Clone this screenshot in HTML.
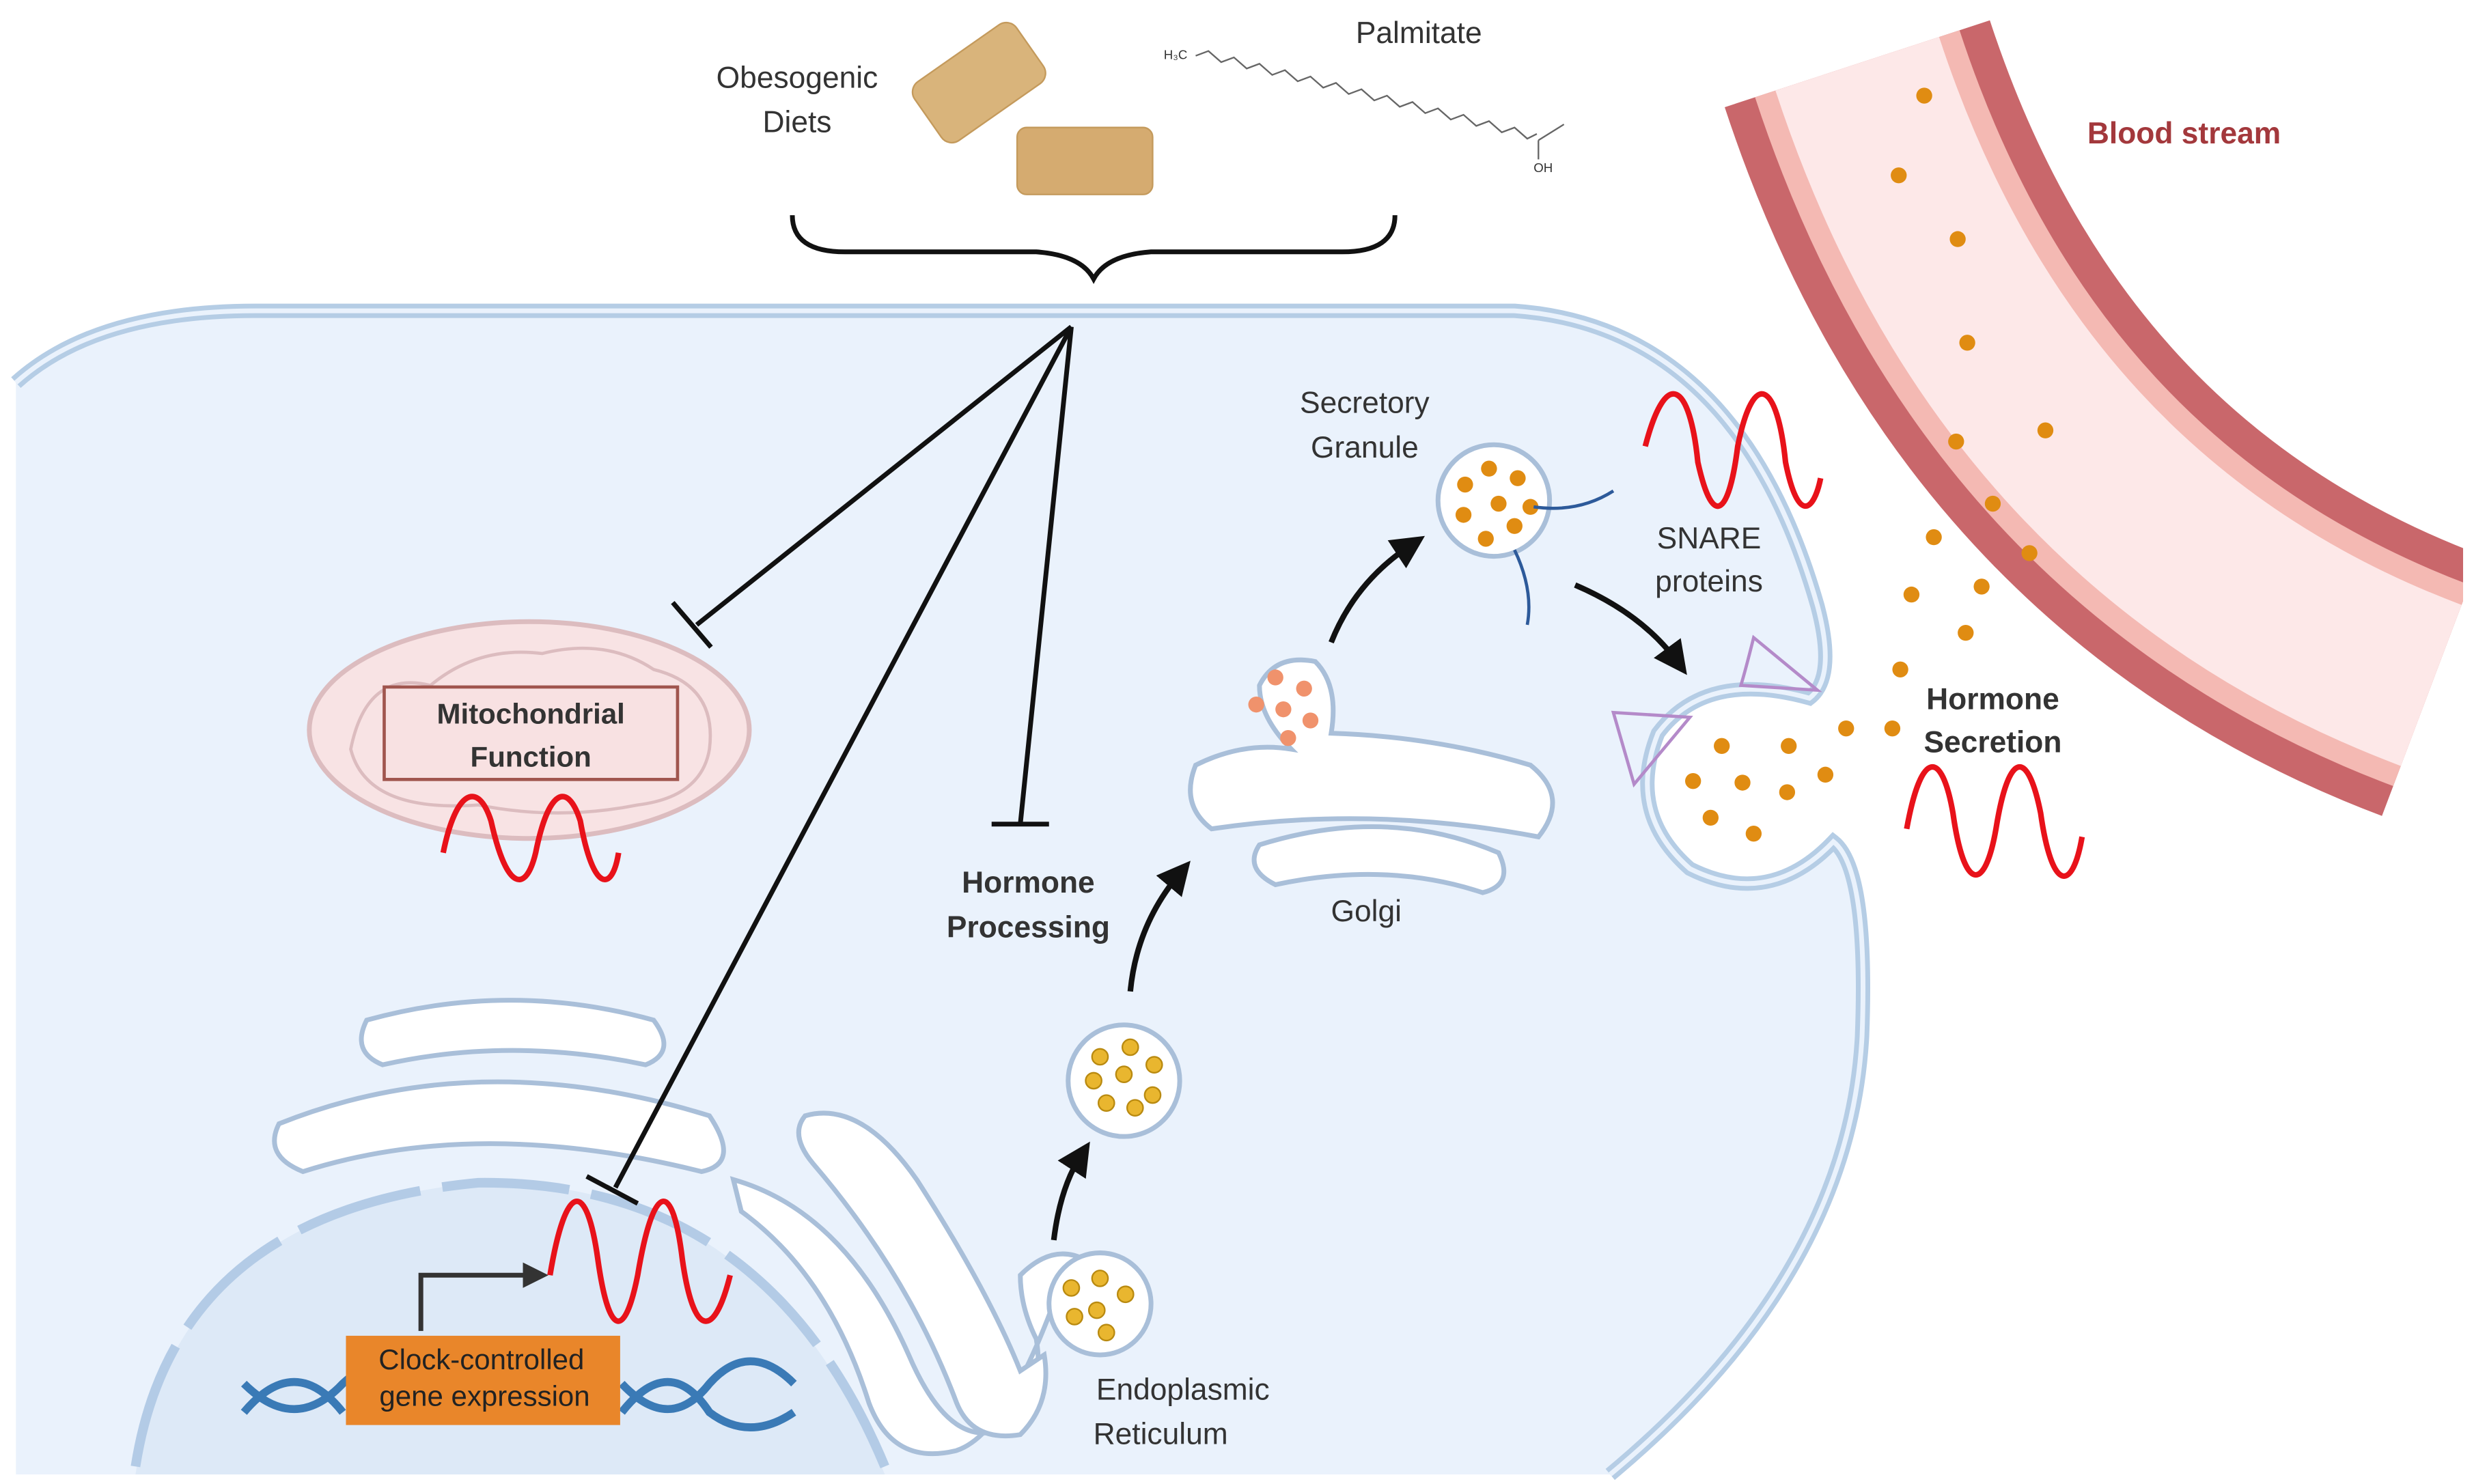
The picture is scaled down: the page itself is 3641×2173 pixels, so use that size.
<!DOCTYPE html>
<html><head><meta charset="utf-8"><style>html,body{margin:0;padding:0;background:#fff}svg{display:block}text{font-family:"Liberation Sans",sans-serif;fill:#333;font-size:19px}</style></head><body>
<svg width="3641" height="2173" viewBox="0 0 1560 931" preserveAspectRatio="none" xmlns="http://www.w3.org/2000/svg">
<defs><marker id="ah" markerWidth="6" markerHeight="6" refX="3" refY="3" orient="auto" markerUnits="strokeWidth"><path d="M0,0 L6,3 L0,6 Z" fill="#111"/></marker></defs>
<!-- blood vessel -->
<path d="M1165,40 Q1260,330 1525,430" fill="none" stroke="#c9676b" stroke-width="175"/>
<path d="M1165,40 Q1260,330 1525,430" fill="none" stroke="#f4b9b3" stroke-width="135"/>
<path d="M1165,40 Q1260,330 1525,430" fill="none" stroke="#fde8e8" stroke-width="108"/>
<rect x="1545" y="0" width="20" height="931" fill="#fff"/>
<!-- cell -->
<path d="M10,240 Q60,195 160,195 L950,195 Q1090,205 1140,380 Q1152,425 1135,438 Q1070,420 1040,460 Q1020,510 1060,545 Q1110,570 1150,528 Q1172,545 1168,650 Q1160,800 1010,925 L10,925 Z" fill="#eaf2fc"/>
<path d="M10,240 Q60,195 160,195 L950,195 Q1090,205 1140,380 Q1152,425 1135,438 Q1070,420 1040,460 Q1020,510 1060,545 Q1110,570 1150,528 Q1172,545 1168,650 Q1160,800 1010,925" fill="none" stroke="#b5cde5" stroke-width="9"/>
<path d="M10,240 Q60,195 160,195 L950,195 Q1090,205 1140,380 Q1152,425 1135,438 Q1070,420 1040,460 Q1020,510 1060,545 Q1110,570 1150,528 Q1172,545 1168,650 Q1160,800 1010,925" fill="none" stroke="#eaf2fc" stroke-width="3"/>
<!-- nucleus -->
<path d="M85,925 Q110,760 300,742 Q480,740 555,925 Z" fill="#dde9f7"/>
<path d="M85,920 Q110,760 300,742 Q480,740 555,920" fill="none" stroke="#b3cbe6" stroke-width="6" stroke-dasharray="80,14"/>
<g fill="#fff" stroke="#a9bfd9" stroke-width="3">
<path d="M230,640 Q320,615 410,640 Q425,660 405,668 Q320,650 240,668 Q220,660 230,640 Z"/>
<path d="M175,705 Q300,655 445,700 Q465,730 440,735 Q300,700 190,735 Q165,725 175,705 Z"/>
<path d="M460,740 Q530,760 570,850 Q600,920 640,890 Q655,870 650,840 Q640,820 640,800 Q660,780 680,790 L660,820 Q630,900 600,910 Q560,920 545,880 Q520,800 465,760 Z"/>
<path d="M505,700 Q540,690 575,740 Q620,810 640,860 L655,850 Q660,880 640,900 Q610,905 600,880 Q570,800 510,730 Q495,712 505,700 Z"/>
<circle cx="690" cy="818" r="32"/>
<circle cx="705" cy="678" r="35"/>
<path d="M750,480 Q780,465 810,470 Q790,450 790,430 Q800,410 825,415 Q840,430 835,460 Q900,462 960,480 Q985,500 965,525 Q860,505 760,520 Q740,505 750,480 Z"/>
<path d="M790,530 Q870,505 940,535 Q950,555 930,560 Q870,540 800,555 Q780,545 790,530 Z"/>
<circle cx="937" cy="314" r="35"/>
</g>
<g fill="#e9b62f" stroke="#b98a10" stroke-width="1">
<circle cx="672" cy="808" r="5"/><circle cx="690" cy="802" r="5"/><circle cx="706" cy="812" r="5"/><circle cx="688" cy="822" r="5"/><circle cx="674" cy="826" r="5"/><circle cx="694" cy="836" r="5"/>
<circle cx="690" cy="663" r="5"/><circle cx="709" cy="657" r="5"/><circle cx="724" cy="668" r="5"/><circle cx="686" cy="678" r="5"/><circle cx="705" cy="674" r="5"/><circle cx="723" cy="687" r="5"/><circle cx="694" cy="692" r="5"/><circle cx="712" cy="695" r="5"/>
</g>
<g fill="#f0926c"><circle cx="800" cy="425" r="5"/><circle cx="818" cy="432" r="5"/><circle cx="788" cy="442" r="5"/><circle cx="805" cy="445" r="5"/><circle cx="822" cy="452" r="5"/><circle cx="808" cy="463" r="5"/></g>
<g fill="#e08c12">
<circle cx="919" cy="304" r="5"/><circle cx="934" cy="294" r="5"/><circle cx="952" cy="300" r="5"/><circle cx="940" cy="316" r="5"/><circle cx="918" cy="323" r="5"/><circle cx="960" cy="318" r="5"/><circle cx="950" cy="330" r="5"/><circle cx="932" cy="338" r="5"/>
<circle cx="1080" cy="468" r="5"/><circle cx="1122" cy="468" r="5"/><circle cx="1062" cy="490" r="5"/><circle cx="1093" cy="491" r="5"/><circle cx="1121" cy="497" r="5"/><circle cx="1145" cy="486" r="5"/><circle cx="1073" cy="513" r="5"/><circle cx="1100" cy="523" r="5"/><circle cx="1158" cy="457" r="5"/><circle cx="1187" cy="457" r="5"/>
<circle cx="1192" cy="420" r="5"/><circle cx="1233" cy="397" r="5"/><circle cx="1199" cy="373" r="5"/><circle cx="1243" cy="368" r="5"/><circle cx="1213" cy="337" r="5"/><circle cx="1273" cy="347" r="5"/><circle cx="1250" cy="316" r="5"/><circle cx="1227" cy="277" r="5"/><circle cx="1283" cy="270" r="5"/><circle cx="1234" cy="215" r="5"/><circle cx="1228" cy="150" r="5"/><circle cx="1191" cy="110" r="5"/><circle cx="1207" cy="60" r="5"/>
</g>
<path d="M962,318 Q990,322 1012,308" fill="none" stroke="#2d5a9a" stroke-width="2"/>
<path d="M950,345 Q962,370 958,392" fill="none" stroke="#2d5a9a" stroke-width="2"/>
<path d="M1012,447 L1060,450 L1025,492 Z M1100,400 Q1095,420 1092,430 L1140,433 Z" fill="none" stroke="#b48ac9" stroke-width="2"/>
<!-- mitochondria -->
<ellipse cx="332" cy="458" rx="138" ry="68" fill="#f8e3e4" stroke="#dcbcbf" stroke-width="3"/>
<path d="M220,470 Q230,420 270,430 Q300,405 340,410 Q380,400 410,420 Q450,430 445,470 Q440,500 400,505 Q350,515 300,505 Q230,510 220,470 Z" fill="none" stroke="#dcbcbf" stroke-width="2"/>
<rect x="241" y="431" width="184" height="58" fill="#f8e1e2" stroke="#a0554e" stroke-width="2"/>
<text x="333" y="454" text-anchor="middle" font-weight="bold" style="font-size:18px">Mitochondrial</text>
<text x="333" y="481" text-anchor="middle" font-weight="bold" style="font-size:18px">Function</text>
<path d="M153,868 Q185,900 215,868 Q245,840 275,868 M153,886 Q185,848 215,886 M390,868 Q420,900 445,868 Q470,840 498,868 M390,886 Q420,848 445,886 Q470,905 498,886" fill="none" stroke="#3a7ab6" stroke-width="5"/>
<rect x="217" y="838" width="172" height="56" fill="#e9862a"/>
<text x="302" y="859" text-anchor="middle" style="font-size:18px;fill:#222">Clock-controlled</text>
<text x="304" y="882" text-anchor="middle" style="font-size:18px;fill:#222">gene expression</text>
<path d="M264,835 L264,800 L330,800" fill="none" stroke="#333" stroke-width="3"/>
<path d="M328,792 L344,800 L328,808 Z" fill="#333"/>
<g fill="none" stroke="#e8121a" stroke-width="3.5">
<path d="M278,535 C286,495 300,490 308,515 C318,560 330,560 336,535 C344,495 356,490 364,515 C372,560 384,560 388,535"/>
<path d="M345,800 C355,740 368,740 375,790 C382,840 392,840 400,800 C410,740 422,740 428,790 C435,840 448,840 458,800"/>
<path d="M1032,280 C1045,230 1060,240 1065,290 C1075,335 1085,320 1090,280 C1100,230 1115,240 1120,290 C1128,330 1138,320 1142,300"/>
<path d="M1196,520 C1205,470 1218,470 1225,510 C1232,560 1245,560 1252,520 C1260,470 1272,470 1280,510 C1287,560 1300,560 1306,525"/>
</g>
<g stroke="#111" stroke-width="3" fill="none">
<path d="M672,205 L437,392 M422,378 L446,406"/>
<path d="M672,205 L640,517 M622,517 L658,517"/>
<path d="M672,205 L386,745 M368,738 L400,755"/>
<path d="M497,135 Q497,158 530,158 L650,158 Q678,160 686,175 Q694,160 722,158 L842,158 Q875,158 875,135"/>
</g>
<g stroke="#111" stroke-width="3.5" fill="none" marker-end="url(#ah)">
<path d="M661,778 Q665,745 678,725"/>
<path d="M709,622 Q713,580 740,548"/>
<path d="M835,403 Q850,365 885,342"/>
<path d="M988,367 Q1030,385 1052,415"/>
</g>
<g transform="rotate(-35 613 52)"><rect x="575" y="30" width="78" height="45" rx="8" fill="#d9b47b" stroke="#c49a5c"/></g>
<rect x="638" y="80" width="85" height="42" rx="6" fill="#d5ab70" stroke="#c49a5c"/>
<path d="M750,35 l8,-3 l8,7 l8,-3 l8,7 l8,-3 l8,7 l8,-3 l8,7 l8,-3 l8,7 l8,-3 l8,7 l8,-3 l8,7 l8,-3 l8,7 l8,-3 l8,7 l8,-3 l8,7 l8,-3 l8,7 l8,-3 l8,7 l8,-3 l8,7 l6,-3 M965,88 l16,-10 M965,88 l0,12" fill="none" stroke="#666" stroke-width="1"/>
<text x="730" y="37" style="font-size:8px">H₃C</text><text x="962" y="108" style="font-size:8px">OH</text>
<text x="500" y="55" text-anchor="middle">Obesogenic</text>
<text x="500" y="83" text-anchor="middle">Diets</text>
<text x="890" y="27" text-anchor="middle">Palmitate</text>
<text x="1370" y="90" text-anchor="middle" style="fill:#a3383c;font-weight:bold;font-size:19px">Blood stream</text>
<text x="856" y="259" text-anchor="middle">Secretory</text>
<text x="856" y="287" text-anchor="middle">Granule</text>
<text x="1072" y="344" text-anchor="middle">SNARE</text>
<text x="1072" y="371" text-anchor="middle">proteins</text>
<text x="1250" y="445" text-anchor="middle" font-weight="bold">Hormone</text>
<text x="1250" y="472" text-anchor="middle" font-weight="bold">Secretion</text>
<text x="645" y="560" text-anchor="middle" font-weight="bold">Hormone</text>
<text x="645" y="588" text-anchor="middle" font-weight="bold">Processing</text>
<text x="857" y="578" text-anchor="middle">Golgi</text>
<text x="742" y="878" text-anchor="middle">Endoplasmic</text>
<text x="728" y="906" text-anchor="middle">Reticulum</text>
</svg>
</body></html>
